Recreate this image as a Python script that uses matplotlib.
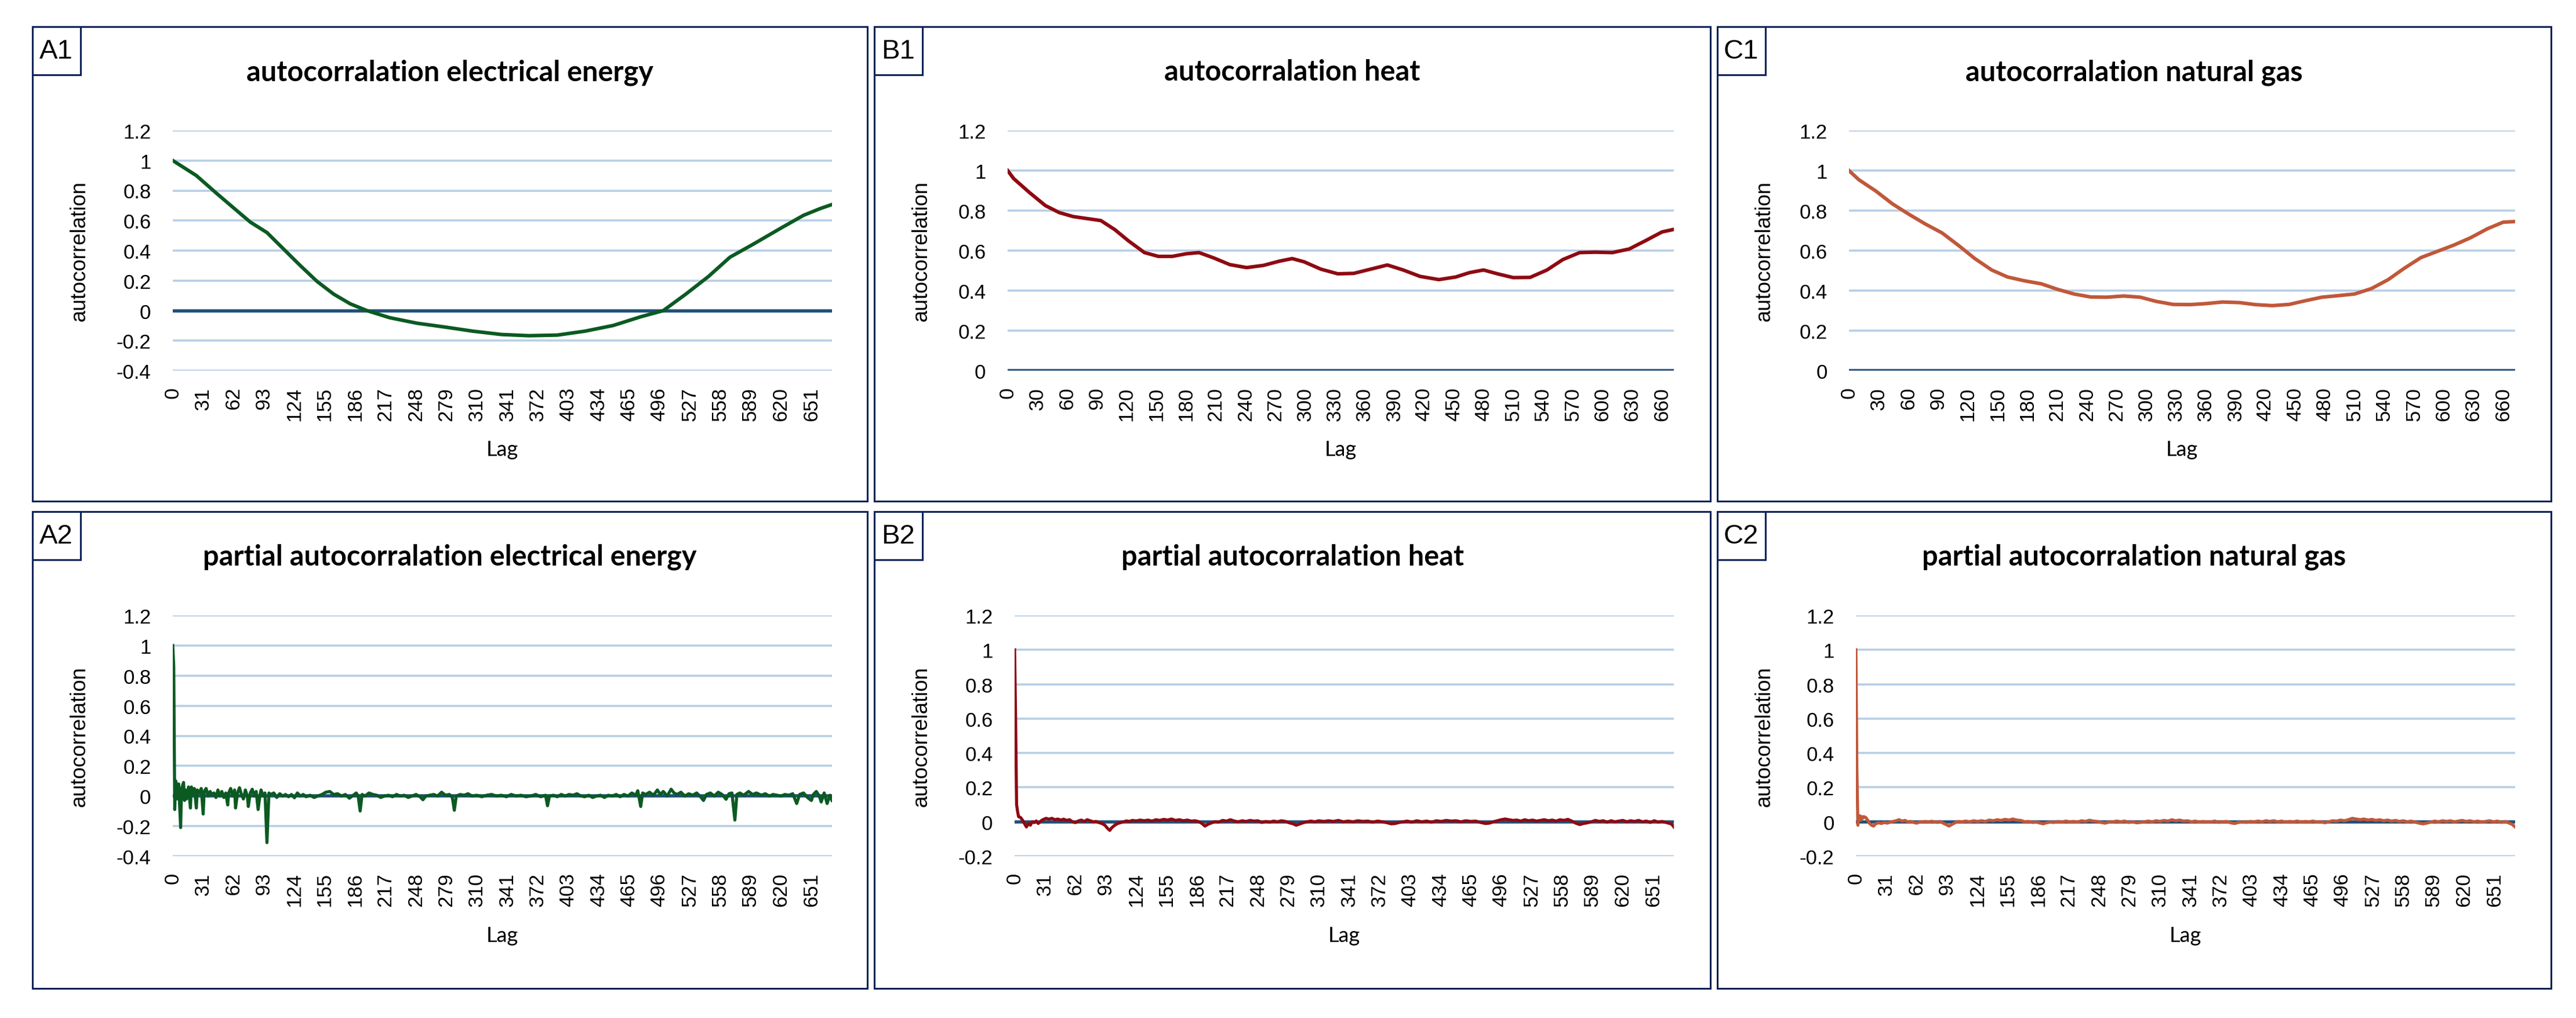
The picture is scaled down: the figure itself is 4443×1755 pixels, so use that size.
import matplotlib
matplotlib.use("Agg")
import matplotlib.pyplot as plt
import numpy as np
from matplotlib.patches import Rectangle
from matplotlib.ticker import FuncFormatter

plt.rcParams["axes.unicode_minus"] = False

# --- data ---
acf_elec_lag = [0, 24, 44, 61, 79, 96, 113, 130, 147, 164, 181, 198, 221, 249, 278, 306,
                335, 363, 392, 420, 449, 477, 500, 523, 546, 568, 591, 620, 643, 660, 672]
acf_elec = [1.0, 0.90, 0.785, 0.69, 0.59, 0.52, 0.41, 0.30, 0.195, 0.11, 0.045, 0.0, -0.047,
            -0.084, -0.11, -0.137, -0.159, -0.167, -0.163, -0.137, -0.099, -0.041, 0.0, 0.11,
            0.227, 0.356, 0.44, 0.55, 0.635, 0.68, 0.707]

acf_heat_lag = [0, 6, 22, 38, 52, 66, 80, 94, 108, 122, 138, 152, 166, 180, 193, 208, 224,
                241, 258, 274, 287, 299, 316, 333, 349, 366, 383, 399, 416, 435, 452, 466,
                480, 494, 510, 527, 544, 560, 577, 593, 610, 627, 644, 660, 672]
acf_heat = [1.0, 0.96, 0.89, 0.825, 0.79, 0.77, 0.76, 0.75, 0.705, 0.648, 0.59, 0.571, 0.571,
            0.584, 0.59, 0.563, 0.53, 0.515, 0.526, 0.547, 0.56, 0.544, 0.507, 0.484, 0.486,
            0.507, 0.528, 0.503, 0.471, 0.455, 0.468, 0.49, 0.503, 0.484, 0.465, 0.466, 0.503,
            0.555, 0.59, 0.592, 0.59, 0.608, 0.651, 0.693, 0.706]

acf_gas_lag = [0, 10, 27, 44, 61, 77, 94, 111, 127, 144, 160, 177, 194, 210, 227, 244, 260,
               277, 294, 310, 327, 344, 360, 377, 394, 410, 427, 444, 460, 477, 494, 510, 527,
               544, 560, 577, 594, 610, 627, 644, 660, 672]
acf_gas = [1.0, 0.954, 0.898, 0.833, 0.78, 0.733, 0.688, 0.624, 0.56, 0.503, 0.468, 0.449,
           0.434, 0.407, 0.383, 0.368, 0.367, 0.373, 0.367, 0.346, 0.331, 0.33, 0.335, 0.343,
           0.34, 0.33, 0.325, 0.331, 0.349, 0.367, 0.375, 0.383, 0.41, 0.455, 0.511, 0.565,
           0.597, 0.627, 0.664, 0.709, 0.742, 0.745]

pacf_elec_lag = [0, 1, 2, 3, 4, 5, 6, 8, 9, 11, 12, 13, 14, 16, 18, 19, 21, 22, 24, 25, 27,
                 29, 31, 32, 34, 36, 38, 40, 42, 44, 46, 48, 50, 52, 54, 56, 57, 59, 61, 63,
                 64, 66, 68, 70, 72, 74, 76, 77, 79, 81, 83, 85, 87, 89, 90, 92, 94, 96, 98,
                 100, 103, 106, 109, 112, 115, 118, 121, 124, 127, 130, 133, 136, 140, 144,
                 148, 152, 156, 160, 164, 168, 172, 176, 180, 184, 187, 189, 191, 193, 196,
                 200, 204, 208, 212, 216, 220, 224, 228, 232, 236, 240, 244, 248, 252, 255,
                 258, 262, 266, 270, 274, 278, 282, 285, 287, 289, 293, 297, 301, 305, 310,
                 315, 320, 325, 330, 335, 340, 345, 350, 355, 360, 365, 370, 375, 380, 382,
                 384, 388, 392, 396, 400, 404, 408, 412, 416, 420, 424, 428, 432, 436, 440,
                 444, 448, 452, 456, 460, 464, 468, 472, 474, 477, 479, 482, 486, 490, 494,
                 497, 500, 504, 508, 511, 514, 518, 522, 526, 530, 534, 538, 541, 544, 548,
                 552, 556, 560, 564, 567, 570, 573, 575, 578, 582, 587, 591, 595, 600, 604,
                 608, 612, 616, 620, 624, 628, 632, 636, 639, 643, 647, 651, 653, 656, 659,
                 661, 664, 667, 670, 672]
pacf_elec = [1.0, 0.86, -0.09, 0.10, 0.06, -0.02, 0.08, -0.21, 0.05, 0.09, -0.03, 0.04, -0.02,
             0.06, -0.08, 0.06, 0.01, 0.05, -0.08, 0.04, 0.02, 0.05, -0.12, 0.03, 0.05, 0.0,
             0.03, 0.01, 0.02, -0.01, 0.04, 0.0, 0.03, -0.01, 0.02, -0.06, 0.02, 0.05, 0.0,
             0.04, -0.08, 0.02, 0.055, 0.01, -0.02, 0.04, 0.0, -0.07, 0.02, 0.045, 0.0, 0.03,
             -0.09, 0.01, 0.04, 0.0, 0.02, -0.31, 0.02, 0.01, 0.02, -0.01, 0.015, 0.0, 0.01,
             -0.005, 0.01, -0.012, 0.02, 0.0, 0.01, -0.005, 0.005, -0.01, 0.0, 0.01, 0.025,
             0.03, 0.01, 0.015, 0.0, 0.01, -0.015, 0.005, 0.02, 0.0, -0.10, 0.01, 0.0, 0.02,
             0.01, 0.005, -0.01, 0.0, 0.005, -0.005, 0.01, 0.0, 0.005, -0.01, 0.0, 0.01,
             -0.005, -0.025, 0.0, 0.005, 0.01, 0.0, 0.025, 0.005, 0.01, -0.01, -0.095, 0.0,
             0.01, 0.005, 0.015, 0.0, 0.005, -0.005, 0.005, 0.01, 0.0, 0.005, -0.005, 0.01,
             0.0, 0.005, -0.005, 0.0, 0.01, -0.005, 0.005, -0.065, 0.0, 0.005, -0.005, 0.01,
             0.0, 0.01, 0.005, 0.015, 0.0, -0.005, 0.005, -0.01, 0.0, 0.005, -0.01, 0.005,
             0.0, 0.01, -0.005, 0.01, 0.0, 0.02, 0.005, 0.035, -0.07, 0.02, 0.01, 0.025,
             0.005, 0.04, 0.01, 0.03, 0.0, 0.045, 0.02, 0.01, 0.025, 0.0, 0.015, 0.005, 0.02,
             -0.005, -0.03, 0.01, 0.02, 0.0, 0.025, 0.01, -0.022, 0.015, 0.02, -0.16, 0.01,
             0.02, 0.005, 0.03, 0.01, 0.02, 0.005, 0.015, 0.0, 0.01, 0.005, 0.0, 0.01, 0.005,
             0.015, -0.05, 0.01, 0.02, -0.01, -0.03, 0.01, 0.03, 0.0, -0.04, 0.02, -0.05,
             0.005, -0.03]

pacf_heat_lag = [0, 1, 2, 3, 4, 6, 8, 10, 12, 14, 16, 18, 20, 22, 24, 26, 28, 30, 32, 35, 38,
                 41, 44, 47, 50, 53, 56, 59, 62, 65, 68, 71, 74, 77, 80, 83, 86, 89, 92, 95,
                 97, 99, 102, 105, 108, 111, 114, 117, 120, 124, 128, 132, 136, 140, 144,
                 148, 152, 156, 160, 164, 168, 172, 176, 180, 184, 188, 191, 194, 197, 200,
                 204, 208, 212, 216, 220, 224, 228, 232, 236, 240, 244, 248, 252, 256, 260,
                 264, 268, 272, 276, 280, 284, 287, 290, 294, 298, 302, 306, 310, 315, 320,
                 325, 330, 335, 340, 345, 350, 355, 360, 365, 370, 375, 380, 384, 388, 392,
                 396, 400, 405, 410, 415, 420, 425, 430, 435, 440, 445, 450, 455, 460, 465,
                 470, 475, 480, 484, 488, 492, 496, 500, 504, 508, 512, 516, 520, 524, 528,
                 532, 536, 540, 544, 548, 552, 556, 560, 564, 568, 572, 576, 580, 584, 588,
                 592, 596, 600, 604, 608, 612, 616, 620, 624, 628, 632, 636, 640, 644, 648,
                 652, 656, 660, 664, 668, 670, 672]
pacf_heat = [1.0, 0.6, 0.1, 0.06, 0.03, 0.025, 0.01, -0.01, -0.03, -0.01, -0.02, 0.0, -0.005,
             0.005, -0.01, 0.0, 0.01, 0.015, 0.02, 0.015, 0.02, 0.012, 0.016, 0.01, 0.015,
             0.008, 0.012, 0.0, -0.005, 0.005, 0.01, 0.002, 0.012, 0.006, 0.0, 0.002, -0.005,
             -0.01, -0.02, -0.04, -0.05, -0.035, -0.02, -0.01, -0.005, 0.0, 0.005, 0.002,
             0.008, 0.005, 0.01, 0.006, 0.01, 0.004, 0.012, 0.008, 0.014, 0.01, 0.016, 0.008,
             0.012, 0.006, 0.01, 0.004, 0.006, 0.0, -0.01, -0.025, -0.015, -0.008, 0.0,
             -0.002, 0.008, 0.004, 0.012, 0.004, 0.0, 0.006, 0.002, 0.008, 0.004, 0.006,
             -0.004, 0.002, -0.002, 0.004, 0.0, 0.006, 0.002, -0.006, -0.012, -0.02, -0.014,
             -0.006, 0.0, 0.004, 0.0, 0.006, 0.002, 0.006, 0.002, 0.008, 0.0, 0.004, 0.0,
             0.006, 0.002, 0.004, -0.002, 0.004, 0.0, -0.006, -0.012, -0.01, -0.004, 0.0,
             0.004, -0.002, 0.006, 0.0, 0.004, -0.002, 0.006, 0.002, 0.008, 0.004, 0.006, 0.0,
             0.006, 0.002, 0.004, -0.004, -0.01, -0.008, 0.0, 0.006, 0.012, 0.016, 0.012,
             0.008, 0.01, 0.004, 0.012, 0.006, 0.01, 0.004, 0.008, 0.012, 0.006, 0.01, 0.004,
             0.012, 0.008, 0.014, 0.004, -0.008, -0.016, -0.01, -0.006, 0.0, 0.008, 0.002,
             0.006, -0.002, 0.006, 0.0, 0.004, 0.008, 0.0, 0.006, 0.002, 0.008, 0.0, 0.004,
             -0.004, 0.006, -0.002, 0.002, -0.004, -0.01, -0.015, -0.03]

pacf_gas_lag = [0, 1, 2, 3, 4, 5, 6, 7, 8, 10, 12, 14, 16, 18, 20, 23, 26, 29, 32, 35, 38, 41,
                44, 47, 50, 53, 56, 59, 62, 65, 68, 71, 74, 77, 80, 83, 86, 89, 92, 95, 98,
                101, 104, 108, 112, 116, 120, 124, 128, 132, 136, 140, 144, 148, 152, 156,
                160, 164, 168, 172, 176, 180, 184, 188, 191, 194, 198, 202, 206, 210, 214,
                218, 222, 226, 230, 234, 238, 242, 246, 250, 254, 258, 262, 266, 270, 274,
                278, 282, 286, 290, 294, 298, 302, 306, 310, 314, 318, 322, 326, 330, 334,
                338, 342, 346, 350, 354, 358, 362, 366, 370, 374, 378, 382, 386, 390, 394,
                398, 402, 406, 410, 414, 418, 422, 426, 430, 434, 438, 442, 446, 450, 454,
                458, 462, 466, 470, 474, 478, 482, 486, 490, 494, 498, 502, 506, 510, 514,
                518, 522, 526, 530, 534, 538, 542, 546, 550, 554, 558, 562, 566, 570, 574,
                578, 582, 586, 590, 594, 598, 602, 606, 610, 614, 618, 622, 626, 630, 634,
                638, 642, 646, 650, 654, 658, 662, 666, 669, 672]
pacf_gas = [1.0, 0.3, -0.02, 0.03, 0.035, 0.01, 0.03, 0.02, 0.03, 0.025, 0.01, -0.01, -0.02,
            -0.025, -0.012, -0.006, -0.01, -0.004, -0.008, -0.002, 0.002, 0.006, 0.012, 0.004,
            0.008, 0.0, 0.002, -0.004, -0.008, -0.002, 0.0, 0.002, -0.002, 0.003, 0.0, -0.004,
            0.002, -0.008, -0.016, -0.025, -0.015, -0.006, 0.002, 0.0, 0.004, 0.0, 0.006,
            0.002, 0.006, 0.002, 0.01, 0.006, 0.012, 0.008, 0.014, 0.01, 0.016, 0.01, 0.008,
            0.0, 0.002, -0.004, -0.002, -0.008, -0.012, -0.006, -0.002, -0.004, 0.002, -0.002,
            0.004, 0.0, 0.002, -0.002, 0.006, 0.002, 0.009, 0.004, 0.002, -0.004, -0.008,
            -0.002, 0.0, 0.004, 0.0, 0.004, -0.004, 0.0, -0.006, -0.004, 0.0, 0.004, 0.0,
            0.006, 0.002, 0.008, 0.004, 0.012, 0.006, 0.01, 0.004, 0.006, 0.0, 0.004, -0.002,
            0.002, -0.002, 0.0, 0.004, -0.004, 0.0, 0.002, -0.006, -0.01, -0.004, 0.0, -0.004,
            0.002, 0.0, 0.004, 0.0, 0.006, 0.002, 0.006, 0.0, 0.004, -0.002, 0.002, 0.0, 0.004,
            -0.002, 0.002, 0.0, 0.004, -0.002, 0.0, -0.006, 0.0, 0.006, 0.004, 0.01, 0.006,
            0.012, 0.02, 0.016, 0.012, 0.016, 0.01, 0.014, 0.008, 0.012, 0.006, 0.01, 0.004,
            0.008, 0.002, 0.006, 0.0, 0.004, -0.002, -0.008, -0.012, -0.008, -0.002, 0.004,
            0.0, 0.006, 0.002, 0.006, 0.0, 0.004, 0.008, 0.002, 0.006, 0.0, 0.004, -0.002,
            0.002, 0.006, 0.0, 0.004, -0.004, 0.002, -0.008, -0.015, -0.03]

titles = ["autocorralation electrical energy", "autocorralation heat", "autocorralation natural gas",
          "partial autocorralation electrical energy", "partial autocorralation heat",
          "partial autocorralation natural gas"]
panel_tags = ["A1", "B1", "C1", "A2", "B2", "C2"]
colors = ["#0B5A22", "#8E0A12", "#C0583A"]

# --- layout in pixels of the 4443x1756 picture ---
W, H = 4443, 1756
DPI = 200
fig = plt.figure(figsize=(W / DPI, H / DPI), dpi=DPI)

col_box = [(56, 1496), (1508, 2950), (2962, 4400)]
row_box = [(47, 865), (883, 1705)]
plot_x = [[(298, 1435), (1738, 2887), (3189, 4338)],
          [(298, 1435), (1750, 2887), (3201, 4338)]]
plot_y = [(226, 640), (1062, 1477)]

navy = "#0E2257"
grid_c = "#B7CFE6"
axis_c = "#1F4E79"


def fx(x):
    return x / W


def fy(y):
    return 1 - y / H


series = [(acf_elec_lag, acf_elec), (acf_heat_lag, acf_heat), (acf_gas_lag, acf_gas),
          (pacf_elec_lag, pacf_elec), (pacf_heat_lag, pacf_heat), (pacf_gas_lag, pacf_gas)]
ylims = [(-0.4, 1.2), (0, 1.2), (0, 1.2), (-0.4, 1.2), (-0.2, 1.2), (-0.2, 1.2)]
tick_steps = [31, 30, 30, 31, 31, 31]

for i in range(6):
    r, c = divmod(i, 3)
    bx0, bx1 = col_box[c]
    by0, by1 = row_box[r]

    # panel frame and tag box
    fig.patches.append(Rectangle((fx(bx0), fy(by1)), fx(bx1 - bx0), (by1 - by0) / H,
                                 transform=fig.transFigure, fill=False, edgecolor=navy, lw=1.1))
    fig.patches.append(Rectangle((fx(bx0), fy(by0 + 83)), fx(83), 83 / H,
                                 transform=fig.transFigure, fill=False, edgecolor=navy, lw=1.1))
    fig.text(fx(bx0 + 41), fy(by0 + 42), panel_tags[i], ha="center", va="center",
             fontsize=17, family="Liberation Sans")
    fig.text(fx((bx0 + bx1) / 2), fy(by0 + 92), titles[i], ha="center", va="baseline",
             fontsize=17.5, fontweight="bold", family="Lato")

    px0, px1 = plot_x[r][c]
    py0, py1 = plot_y[r]
    ax = fig.add_axes([fx(px0), fy(py1), fx(px1 - px0), (py1 - py0) / H])

    lags, vals = series[i]
    ymin, ymax = ylims[i]
    ax.set_xlim(0, 672)
    ax.set_ylim(ymin, ymax)
    ax.set_yticks(np.round(np.arange(ymin, ymax + 0.01, 0.2), 1))
    ax.yaxis.set_major_formatter(FuncFormatter(lambda v, p: f"{round(v, 1):g}"))
    ax.set_xticks(np.arange(0, 672, tick_steps[i]))
    ax.grid(axis="y", color=grid_c, lw=1.3, zorder=0)
    ax.set_axisbelow(True)
    ax.axhline(0, color=axis_c, lw=2.0, zorder=2)
    ax.plot(lags, vals, color=colors[c], lw=2.2 if r == 0 else 1.9, zorder=3,
            solid_joinstyle="round")

    for s in ax.spines.values():
        s.set_visible(False)
    ax.tick_params(axis="both", length=0, labelsize=12.5)
    ax.tick_params(axis="y", pad=13.5)
    ax.tick_params(axis="x", pad=10, labelrotation=90)
    for lab in ax.get_xticklabels() + ax.get_yticklabels():
        lab.set_family("Liberation Sans")

    ax.set_ylabel("autocorrelation", fontsize=13.2, family="Liberation Sans")
    ax.yaxis.set_label_coords((bx0 + 99 - px0) / (px1 - px0), 0.5)
    fig.text(fx((px0 + px1) / 2), fy(py1 + 136), "Lag", ha="center", va="center",
             fontsize=13, family="Lato")

fig.savefig("out.png", dpi=DPI)
